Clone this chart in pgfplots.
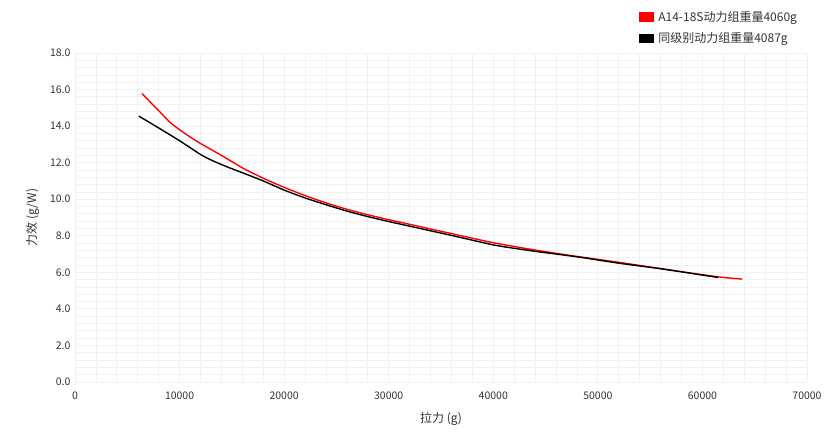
\documentclass[border=0pt]{standalone}
\usepackage{fontspec}
\setmainfont{Noto Sans CJK SC}
\usepackage{pgfplots}
\pgfplotsset{compat=1.18}
\definecolor{gridc}{HTML}{F0F0F0}
\definecolor{txt}{HTML}{333333}
\begin{document}
\begin{tikzpicture}[x=1pt,y=1pt]
\useasboundingbox (0,0) rectangle (840,436);
\begin{axis}[
  at={(75pt,54pt)}, anchor=south west,
  scale only axis, width=732pt, height=329pt,
  xmin=0, xmax=70000, ymin=0, ymax=18,
  xtick={0,10000,...,70000}, ytick={0,2,...,18},
  minor x tick num=4, minor y tick num=4,
  grid=both,
  major grid style={gridc, line width=0.8pt},
  minor grid style={gridc, line width=0.8pt},
  axis line style={draw=none},
  major tick length=0pt, minor tick length=0pt,
  /pgf/number format/assume math mode=true,
  scaled x ticks=false,
  xticklabel={\pgfmathprintnumber[fixed,1000 sep={}]{\tick}},
  yticklabel={\pgfmathprintnumber[fixed,fixed zerofill,precision=1]{\tick}},
  ticklabel style={font=\fontsize{10.5}{12}\selectfont, text=txt},
  xticklabel style={yshift=-6pt},
  yticklabel style={xshift=-1pt},
  xlabel={拉力 (g)}, ylabel={力效 (g/W)},
  label style={font=\fontsize{12}{14}\selectfont, text=txt},
  xlabel style={yshift=-6pt},
  ylabel style={yshift=4pt},
  legend style={at={(0.766,1.14)}, anchor=north west, draw=none, fill=none,
    font=\fontsize{12}{14}\selectfont, text=txt, row sep=6pt,
    legend cell align=left, nodes={inner xsep=4pt}},
  legend image code/.code={\fill[#1] (0pt,-4pt) rectangle (14pt,4pt);},
]
\addplot[red, line width=1.4pt, smooth, tension=0.4] coordinates {
(6400,15.78) (8000,14.85) (9100,14.2) (10500,13.6) (12000,13.05) (14000,12.4)
(16000,11.72) (18000,11.15) (20000,10.65) (22000,10.2) (24000,9.8) (26000,9.45)
(28000,9.15) (30000,8.88) (33000,8.5) (36000,8.12) (40000,7.62) (44000,7.22)
(48000,6.87) (52000,6.55) (56000,6.2) (60000,5.87) (62000,5.72) (63800,5.63)
};
\addlegendentry{A14-18S动力组重量4060g}
\addplot[black, line width=1.4pt, smooth, tension=0.4] coordinates {
(6100,14.55) (8000,13.9) (10000,13.2) (12000,12.45) (13000,12.15) (14500,11.78)
(16000,11.45) (18000,11.0) (20000,10.5) (22000,10.07) (24000,9.7) (26000,9.35)
(28000,9.05) (30000,8.78) (33000,8.4) (36000,8.02) (40000,7.5) (41000,7.4)
(44000,7.15) (48000,6.85) (52000,6.5) (56000,6.2) (60000,5.85) (61500,5.72)
};
\addlegendentry{同级别动力组重量4087g}
\end{axis}
\end{tikzpicture}
\end{document}
